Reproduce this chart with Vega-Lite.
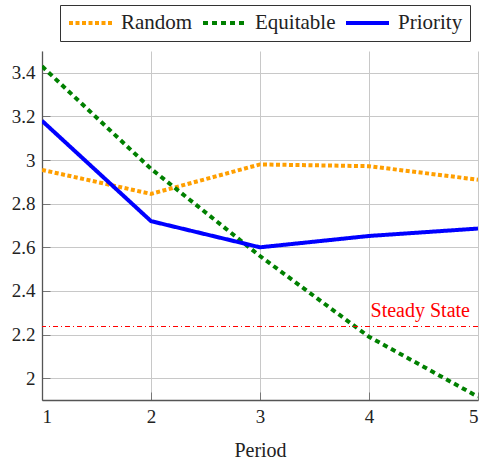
{
  "$schema": "https://vega.github.io/schema/vega-lite/v6.json",
  "autosize": "none",
  "width": 436,
  "height": 349,
  "padding": {"left": 42, "top": 51, "right": 6, "bottom": 66},
  "background": "white",
  "config": {
    "view": {"stroke": null},
    "font": "Liberation Serif",
    "legend": {"labelFont": "Liberation Serif"},
    "axis": {"labelFont": "Liberation Serif", "titleFont": "Liberation Serif", "labelFontSize": 19, "titleFontSize": 20, "labelColor": "#222", "titleColor": "#222", "titleFontWeight": "normal", "gridColor": "#c8c8c8", "gridWidth": 1, "domainColor": "#555", "domainWidth": 1.3, "tickColor": "#777", "tickSize": -8, "tickWidth": 1}
  },
  "layer": [
    {
      "data": {
        "values": [
          {"period": 1, "series": "Random", "value": 2.955},
          {"period": 2, "series": "Random", "value": 2.845},
          {"period": 3, "series": "Random", "value": 2.98},
          {"period": 4, "series": "Random", "value": 2.972},
          {"period": 5, "series": "Random", "value": 2.91},
          {"period": 1, "series": "Equitable", "value": 3.43},
          {"period": 2, "series": "Equitable", "value": 2.96},
          {"period": 3, "series": "Equitable", "value": 2.56},
          {"period": 4, "series": "Equitable", "value": 2.19},
          {"period": 5, "series": "Equitable", "value": 1.915},
          {"period": 1, "series": "Priority", "value": 3.18},
          {"period": 2, "series": "Priority", "value": 2.72},
          {"period": 3, "series": "Priority", "value": 2.6},
          {"period": 4, "series": "Priority", "value": 2.652},
          {"period": 5, "series": "Priority", "value": 2.686}
        ]
      },
      "mark": {"type": "line", "strokeWidth": 4, "clip": true},
      "encoding": {
        "x": {"field": "period", "type": "quantitative", "scale": {"domain": [1, 5], "nice": false}, "axis": {"title": "Period", "values": [1, 2, 3, 4, 5], "format": "d", "labelPadding": 15, "titlePadding": 14}},
        "y": {"field": "value", "type": "quantitative", "scale": {"domain": [1.9, 3.5], "nice": false, "zero": false}, "axis": {"title": null, "values": [2, 2.2, 2.4, 2.6, 2.8, 3, 3.2, 3.4], "format": "~g", "labelPadding": 15}},
        "color": {"field": "series", "type": "nominal", "sort": ["Random", "Equitable", "Priority"], "scale": {"domain": ["Random", "Equitable", "Priority"], "range": ["#ff9f00", "#008000", "#0000ff"]},
          "legend": {"title": null, "orient": "none", "legendX": 18, "legendY": -46, "direction": "horizontal", "columns": 3, "strokeColor": "#333", "fillColor": "white", "padding": 7, "labelFontSize": 21, "labelColor": "#222", "symbolType": "stroke", "symbolSize": 1849, "symbolStrokeWidth": 4, "labelOffset": 7, "columnPadding": 8, "clipHeight": 22}},
        "strokeDash": {"field": "series", "type": "nominal", "sort": ["Random", "Equitable", "Priority"], "scale": {"domain": ["Random", "Equitable", "Priority"], "range": [[4, 2.5], [5, 4], [1, 0]]}, "legend": null},
        "order": {"field": "period"}
      }
    },
    {
      "data": {"values": [{"label": "Steady State", "level": 2.237}]},
      "mark": {"type": "rule", "color": "#ff0000", "strokeWidth": 1.2, "strokeDash": [5, 3, 1, 3]},
      "encoding": {"y": {"field": "level", "type": "quantitative"}}
    },
    {
      "data": {"values": [{"label": "Steady State", "level": 2.237, "pos": 5}]},
      "mark": {"type": "text", "color": "#ff0000", "fontSize": 20, "font": "Liberation Serif", "align": "right", "baseline": "alphabetic", "dx": -8, "dy": -9},
      "encoding": {"x": {"field": "pos", "type": "quantitative"}, "y": {"field": "level", "type": "quantitative"}, "text": {"field": "label"}}
    }
  ]
}
